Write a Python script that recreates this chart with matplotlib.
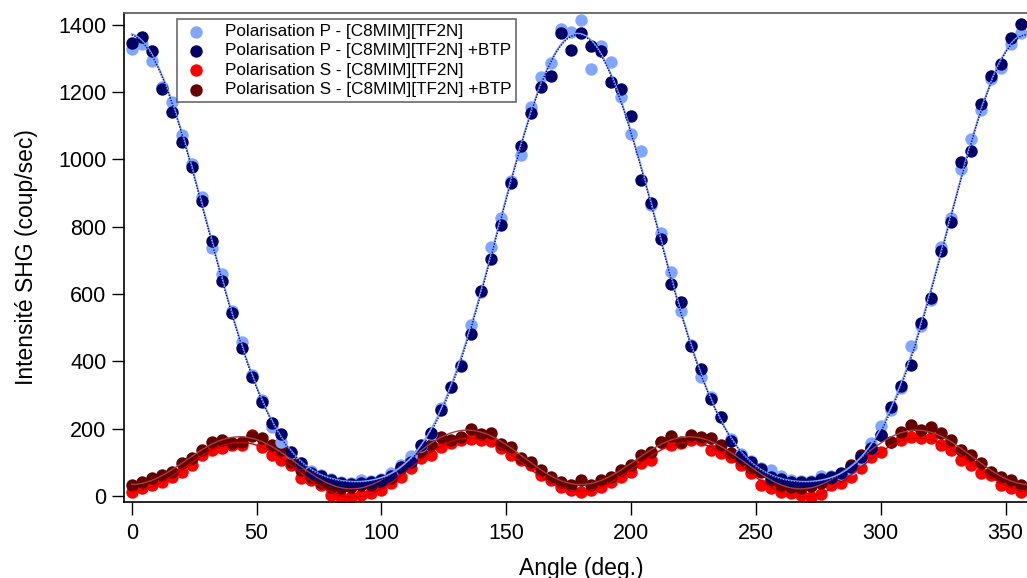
# coding: utf-8
# Intensité SHG en fonction de l'angle de polarisation
import matplotlib
matplotlib.use('Agg')
from matplotlib import pyplot as plt
import numpy as np

# angles (deg.)
angles = list(range(0, 360, 4))

# Polarisation P - [C8MIM][TF2N]
p_tf2n = [1328, 1344, 1294, 1215, 1172, 1073, 985, 888, 736, 660,
          550, 459, 360, 285, 206, 161, 128, 97, 75, 62,
          50, 42, 40, 48, 45, 50, 68, 93, 118, 150,
          185, 260, 325, 390, 508, 605, 741, 825, 935, 1014,
          1155, 1244, 1286, 1388, 1378, 1415, 1268, 1338, 1290, 1185,
          1076, 1026, 865, 782, 667, 551, 450, 353, 295, 236,
          170, 125, 105, 82, 77, 59, 48, 45, 46, 59,
          60, 65, 80, 110, 157, 208, 255, 322, 447, 505,
          583, 740, 825, 972, 1060, 1147, 1240, 1271, 1343, 1375]

# Polarisation P - [C8MIM][TF2N] +BTP
p_btp = [1347, 1363, 1321, 1209, 1142, 1053, 979, 877, 759, 639,
         545, 441, 355, 280, 218, 184, 130, 97, 69, 59,
         48, 38, 36, 38, 43, 48, 58, 87, 102, 152,
         188, 256, 323, 387, 481, 610, 704, 806, 930, 1041,
         1137, 1215, 1248, 1375, 1324, 1377, 1338, 1321, 1229, 1209,
         1130, 940, 870, 763, 631, 575, 446, 378, 289, 234,
         163, 120, 102, 79, 57, 50, 43, 43, 43, 50,
         57, 67, 85, 117, 144, 181, 265, 327, 390, 513,
         589, 729, 813, 992, 1026, 1164, 1248, 1283, 1360, 1402]

# Polarisation S - [C8MIM][TF2N]
s_tf2n = [13, 23, 33, 43, 57, 72, 92, 122, 137, 142,
          152, 152, 181, 147, 122, 107, 92, 53, 48, 33,
          3, -2, -2, 3, 8, 18, 38, 57, 82, 112,
          122, 147, 157, 166, 168, 166, 164, 143, 122, 107,
          92, 62, 48, 28, 18, 13, 18, 28, 43, 57,
          72, 97, 107, 161, 152, 157, 166, 166, 137, 127,
          117, 92, 67, 33, 23, 13, 8, 3, -2, 5,
          33, 38, 57, 82, 117, 132, 161, 166, 176, 171,
          171, 152, 137, 107, 92, 67, 62, 33, 23, 13]

# Polarisation S - [C8MIM][TF2N] +BTP
s_btp = [33, 43, 53, 62, 72, 97, 112, 137, 161, 166,
         157, 161, 178, 171, 152, 137, 102, 77, 56, 38,
         28, 23, 28, 33, 33, 43, 53, 82, 107, 132,
         152, 176, 166, 176, 198, 183, 186, 154, 147, 112,
         102, 77, 57, 43, 33, 48, 33, 48, 57, 77,
         92, 122, 132, 161, 178, 161, 181, 176, 171, 152,
         127, 107, 82, 72, 48, 33, 28, 25, 30, 40,
         53, 62, 92, 122, 142, 181, 161, 191, 211, 196,
         206, 186, 166, 137, 122, 97, 72, 57, 48, 33]

labels = ['Polarisation P - [C8MIM][TF2N]',
          'Polarisation P - [C8MIM][TF2N] +BTP',
          'Polarisation S - [C8MIM][TF2N]',
          'Polarisation S - [C8MIM][TF2N] +BTP']


def fit_curve(x, y, xf):
    # ajustement par moindres carres : 1, cos2t, sin2t, cos4t, sin4t
    t = np.radians(np.asarray(x, dtype=float))
    tf = np.radians(xf)
    A = np.column_stack([np.ones_like(t), np.cos(2*t), np.sin(2*t), np.cos(4*t), np.sin(4*t)])
    Af = np.column_stack([np.ones_like(tf), np.cos(2*tf), np.sin(2*tf), np.cos(4*tf), np.sin(4*tf)])
    coef, _, _, _ = np.linalg.lstsq(A, np.asarray(y, dtype=float), rcond=None)
    return Af @ coef


def main():
    plt.rcParams['font.family'] = ['Liberation Sans', 'DejaVu Sans']
    fig = plt.figure(figsize=(10.27, 5.78), dpi=100)
    ax = fig.add_axes([0.1207, 0.132, 0.8793, 0.846])

    xf = np.linspace(0, 360, 721)
    ms = 80

    # points S d'abord, puis P par-dessus
    ax.scatter(angles, s_tf2n, s=ms, color='#ff0000', label=labels[2], zorder=2, linewidths=0)
    ax.scatter(angles, s_btp, s=ms, color='#660000', label=labels[3], zorder=2.1, linewidths=0)
    ax.scatter(angles, p_tf2n, s=ms, color='#80a6ff', label=labels[0], zorder=2.2, linewidths=0)
    ax.scatter(angles, p_btp, s=ms, color='#000066', label=labels[1], zorder=2.3, linewidths=0)

    # courbes d'ajustement
    ax.plot(xf, fit_curve(angles, s_tf2n, xf), color='#cc0000', lw=1.0, zorder=3)
    ax.plot(xf, fit_curve(angles, s_btp, xf), color='#a04040', lw=1.0, zorder=3)
    ax.plot(xf, fit_curve(angles, p_tf2n, xf), color='#80a6ff', lw=1.2, zorder=3)
    ax.plot(xf, fit_curve(angles, p_btp, xf), color='#000099', lw=1.0, ls=(0, (1, 1)), zorder=3.1)

    ax.set_xlim(-3.1, 358.6)
    ax.set_ylim(-17, 1436)
    ax.set_xticks(range(0, 351, 50))
    ax.set_yticks(range(0, 1401, 200))
    ax.tick_params(direction='out', length=9, width=1, labelsize=15.5, colors='black')
    ax.tick_params(axis='x', pad=6)
    ax.spines['right'].set_visible(False)
    ax.spines['top'].set_color('#555555')
    for side in ['left', 'bottom', 'top']:
        ax.spines[side].set_linewidth(1.2)

    ax.set_xlabel('Angle (deg.)', fontsize=16.5)
    ax.set_ylabel('Intensité SHG (coup/sec)', fontsize=16.5)
    ax.yaxis.set_label_coords(-0.0952, 0.5)
    ax.xaxis.set_label_coords(0.506, -0.113)

    handles, labs = ax.get_legend_handles_labels()
    order = [labs.index(l) for l in labels]
    leg = ax.legend([handles[i] for i in order], [labs[i] for i in order],
                    loc='upper left', bbox_to_anchor=(0.1723, 0.967),
                    bbox_transform=fig.transFigure, borderaxespad=0,
                    fontsize=12.3, frameon=True, fancybox=False,
                    handletextpad=0.9, borderpad=0.3, labelspacing=0.25,
                    markerscale=1.0, handlelength=1.6)
    leg.get_frame().set_edgecolor('#444444')
    leg.get_frame().set_linewidth(1.2)

    fig.savefig('out.png', dpi=100)
    return


if __name__ == '__main__':
    main()
